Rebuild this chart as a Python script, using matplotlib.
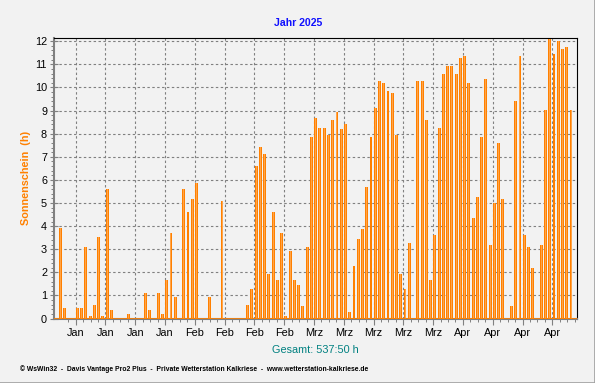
import matplotlib
matplotlib.use("Agg")
import matplotlib.pyplot as plt
from matplotlib.ticker import FixedLocator, MultipleLocator
from matplotlib.lines import Line2D
import numpy as np

plt.rcParams['font.family'] = ['Liberation Sans', 'DejaVu Sans']

# daily sunshine hours, 1 Jan - 1 May 2025
jan = [3.92, 0.46, 0, 0, 0.46, 0.46, 3.1, 0.12, 0.59, 3.53, 0.12, 5.59, 0.37, 0, 0, 0,
       0.2, 0, 0, 0, 1.11, 0.37, 0, 1.11, 0.2, 1.67, 3.7, 0.94, 0, 5.6, 4.6]
feb = [5.17, 5.86, 0, 0, 0.94, 0, 0, 5.09, 0, 0, 0, 0, 0, 0.59, 1.28, 6.6, 7.42, 7.12,
       1.93, 4.61, 1.67, 3.7, 0.12, 2.93, 1.67, 1.46, 0.55, 3.1]
mar = [7.85, 8.67, 8.24, 8.24, 7.94, 8.59, 8.93, 8.2, 8.41, 0.29, 2.28, 3.44, 3.88, 5.69,
       7.85, 9.1, 10.27, 10.19, 9.84, 9.76, 7.94, 1.93, 1.28, 3.27, 0, 10.27, 10.27, 8.59,
       1.67, 3.62, 8.24]
apr = [10.58, 10.92, 10.92, 10.58, 11.27, 11.35, 10.19, 4.35, 5.26, 7.85, 10.36, 3.18,
       5.0, 7.59, 5.17, 0, 0.55, 9.41, 11.35, 3.62, 3.1, 2.19, 0, 3.18, 9.02, 12.09,
       11.44, 12.0, 11.66, 11.74]
may = [9.02]

week_labels = ['Jan'] * 4 + ['Feb'] * 4 + ['Mrz'] * 5 + ['Apr'] * 4
title = 'Jahr 2025'
total_text = 'Gesamt: 537:50 h'
footer = ('\u00a9 WsWin32  -  Davis Vantage Pro2 Plus  -  Private Wetterstation Kalkriese'
          '  -  www.wetterstation-kalkriese.de')

values = np.array(jan + feb + mar + apr + may)
days = np.arange(len(values))
week_pos = 3.6 + 7 * np.arange(len(week_labels))

bg = '#F2F2F2'
fig = plt.figure(figsize=(5.95, 3.83), dpi=100, facecolor=bg)
ax = fig.add_axes([54 / 595, 1 - 318.6 / 383, 523 / 595, 280.6 / 383])
ax.set_facecolor(bg)

# bars with a lighter centre stripe
ax.bar(days, values, width=0.68, color='#FF8000', linewidth=0, zorder=3)
ax.bar(days, values, width=0.22, color='#FFA448', linewidth=0, zorder=3.5)
ax.axhline(0, color='#FF8000', lw=1.2, zorder=4)

ax.set_xlim(-1.48, 121.4)
ax.set_ylim(0, 12.14)

ax.yaxis.set_major_locator(FixedLocator(range(0, 13)))
ax.yaxis.set_minor_locator(MultipleLocator(0.2))
ax.xaxis.set_major_locator(FixedLocator(week_pos))
ax.xaxis.set_minor_locator(FixedLocator(np.arange(week_pos[0] - 1.75, 121.4, 1.75)))
ax.set_xticklabels(week_labels)

ax.grid(True, which='major', color='#808080', linestyle=(0, (2.2, 2.2)), lw=0.8, zorder=1)

ax.tick_params(axis='y', which='major', direction='inout', length=6, width=0.8,
               color='#808080', labelsize=7.8, pad=2)
ax.tick_params(axis='y', which='minor', direction='out', length=2.5, width=0.7,
               color='#808080')
ax.tick_params(axis='x', which='major', direction='out', length=4, width=0.8,
               color='#808080', labelsize=7.8, pad=3)
ax.tick_params(axis='x', which='minor', direction='out', length=2.5, width=0.7,
               color='#808080')

for s in ['left', 'bottom']:
    ax.spines[s].set_color('#808080')
    ax.spines[s].set_linewidth(1.5)
for s in ['top', 'right']:
    ax.spines[s].set_color('black')
    ax.spines[s].set_linewidth(0.8)

ax.set_ylabel('Sonnenschein  (h)', color='#FF8000', fontsize=7.8, fontweight='bold')
ax.yaxis.set_label_coords(-23 / 523, 0.5)

fig.text(298 / 595, 1 - 23 / 383, title, color='#1010FF', fontsize=7.6, fontweight='bold',
         ha='center', va='center')
fig.text(315 / 595, 1 - 350 / 383, total_text, color='#008080', fontsize=7.8,
         ha='center', va='center')
fig.text(20 / 595, 1 - 369 / 383, footer, color='black', fontsize=4.85, fontweight='bold',
         ha='left', va='center')

fig.add_artist(Line2D([0, 1], [0.5 / 383, 0.5 / 383], transform=fig.transFigure,
                      color='#A0A0A0', lw=1.2))
fig.add_artist(Line2D([1 - 0.5 / 595, 1 - 0.5 / 595], [0, 1], transform=fig.transFigure,
                      color='#A0A0A0', lw=1.2))

fig.savefig('out.png', dpi=100, facecolor=bg)
